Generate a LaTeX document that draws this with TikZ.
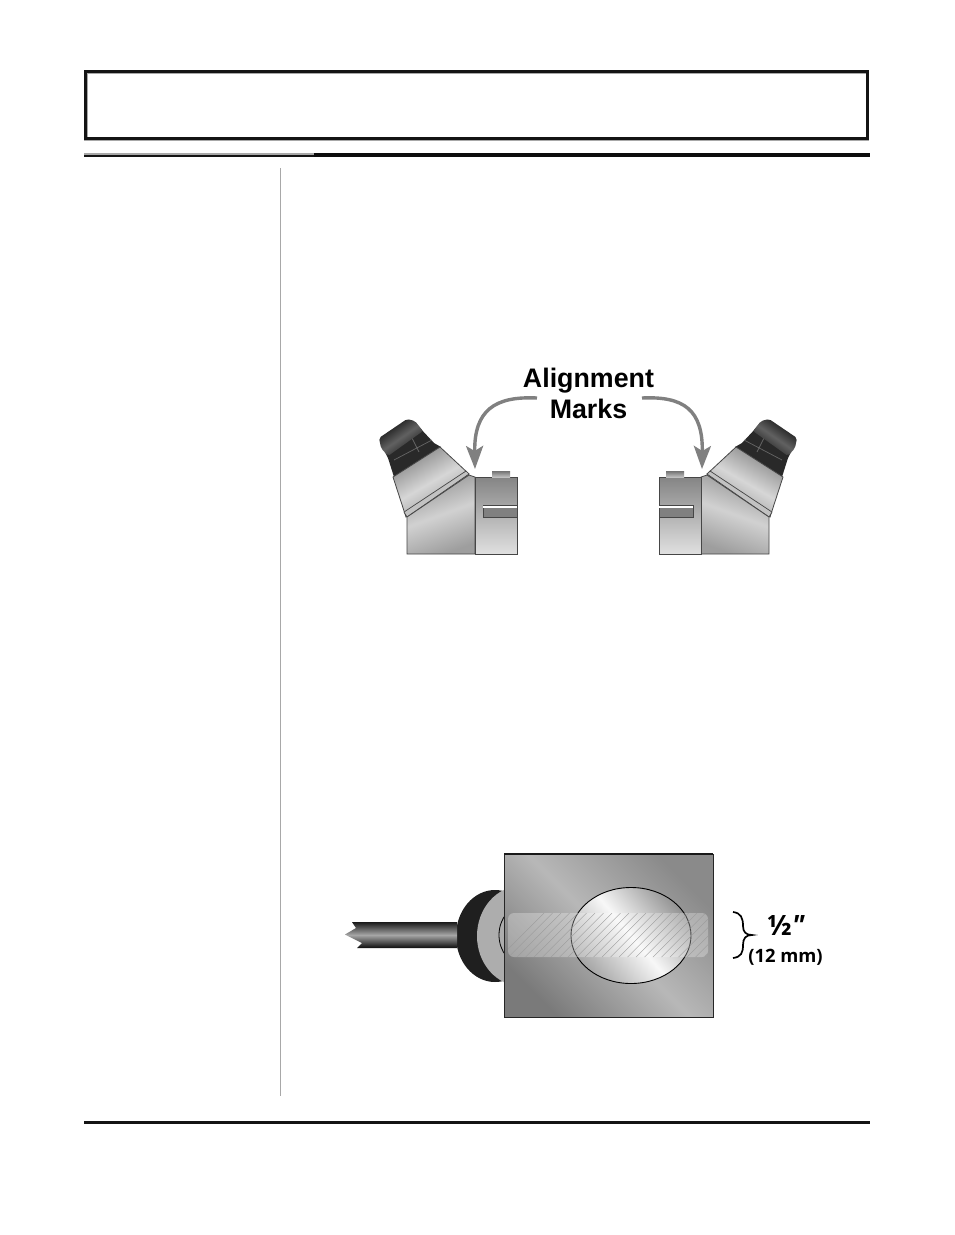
\documentclass[tikz,border=0pt]{standalone}
\usepackage{fontspec}
\usetikzlibrary{arrows.meta}
\newfontfamily\markFont{Liberation Sans}
\newfontfamily\sizeFont{Open Sans}
\definecolor{ruleGray}{RGB}{168,168,168}
\definecolor{arrowGray}{RGB}{128,128,128}
\definecolor{bodyLine}{RGB}{70,70,70}
\tikzstyle{page} = [x = 1pt, y = -1pt]
\tikzstyle{heavyRule} = [color=black!92, line width=3pt]
\tikzstyle{markArrow} = [color=arrowGray, line width=3.4pt, -{Stealth[length=23pt, width=17pt, inset=5pt]}]
\tikzstyle{bodyEdge} = [draw=bodyLine, line width=.8pt]
\tikzstyle{markText} = [font=\markFont\bfseries\fontsize{26.8}{31}\selectfont, align=center, inner sep=0pt]
\tikzstyle{sizeText} = [font=\sizeFont\bfseries, inner sep=0pt]
\newcommand{\microscopeHead}[1]{
  \fill [black!84] (385,452) -- (420,428) -- (434,443) -- (441,447) -- (394,477) -- (388,458) -- cycle;
  \draw [black!60, line width=.7pt] (412,438) -- (419,452) (394,460) -- (432,440);
  \shade [rounded corners=2pt, left color=black!95, right color=black!92, middle color=black!62, shading angle=#1*35] (379,438) -- (407,419) -- (415,421) -- (423,431) -- (388,456) -- (381,448) -- cycle;
  \shade [bodyEdge, left color=black!48, right color=black!42, middle color=black!16, shading angle=#1*30] (393,477) -- (440,447) -- (469,474) -- (406,517) -- cycle;
  \draw [color=bodyLine, line width=.7pt, fill=black!24] (404,512) -- (466,471) -- (469,474) -- (407,517) -- cycle;
  \shade [bodyEdge, left color=black!42, right color=black!38, middle color=black!18, shading angle=#1*20] (407,517) -- (469,475) -- (475,477) -- (475,554) -- (407,554) -- cycle;
  \shade [bodyEdge, top color=black!48, bottom color=black!12] (475,477) rectangle (517,554);
  \shade [top color=black!55, bottom color=black!25] (492,471) rectangle (510,477);
  \filldraw [color=bodyLine, line width=.6pt, fill=black!50] (483,505) rectangle (517,517);
  \fill [white] (483,505.5) rectangle (517,508);
}
\begin{document}
\begin{tikzpicture}[page]
  \useasboundingbox [fill=white] (0,0) rectangle (954,1235);
  \draw [ruleGray, line width=1pt] (87.5,138) -- (87.5,73.5) -- (867,73.5);
  \draw [heavyRule, line width=3.2pt] (85.6,71.6) rectangle (867.5,138.4);
  \draw [ruleGray, line width=1pt] (84,140.5) -- (869,140.5);
  \fill [ruleGray] (84,153) rectangle (314,154.5);
  \fill [black!92] (84,154.5) rectangle (314,156.5);
  \fill [black!95] (314,153.4) rectangle (870,156.5);
  \draw [ruleGray, line width=1pt] (280.5,168) -- (280.5,1096);
  \draw [heavyRule] (84,1122) -- (870,1122);

  \microscopeHead{1}
  \begin{scope}[xshift=1176pt, xscale=-1]
    \microscopeHead{-1}
  \end{scope}

  \node [markText] (alignLabel) at (588.5,393) {Alignment\\Marks};
  \coordinate (leftStart) at (537,398);
  \coordinate (leftEnd) at (475,469);
  \coordinate (rightStart) at (642,398);
  \coordinate (rightEnd) at (702,469);
  \draw [markArrow] (leftStart) .. controls (495,396) and (474,410) .. (leftEnd);
  \draw [markArrow] (rightStart) .. controls (684,396) and (703,410) .. (rightEnd);

  \fill [black!88] (495,936) ellipse [x radius=39, y radius=46];
  \fill [black!32] (521,936) ellipse [x radius=44, y radius=50];
  \draw [black, line width=.8pt] (524,935) ellipse [x radius=25, y radius=30];
  \shade [top color=black!90, bottom color=black!95, middle color=black!35] (352,922) -- (457,922) -- (457,948) -- (357,948) -- (362,943) -- (345,934.5) -- (356,928) -- cycle;

  \shade [draw=black!85, line width=.9pt, left color=black!46, right color=black!52, middle color=black!28, shading angle=-45] (504,854) rectangle (713,1017);
  \draw [black!90, line width=1.4pt] (504,854) -- (713,854);
  \shade [draw=black, line width=.9pt, left color=black!42, right color=black!35, middle color=black!3, shading angle=-50] (631,935.5) ellipse [x radius=60, y radius=48];
  \fill [white, opacity=.28, rounded corners=6pt] (508,913) rectangle (708,957);
  \begin{scope}
    \clip [rounded corners=6pt] (508,913) rectangle (708,957);
    \foreach \hatchX in {500,508.5,...,710} {
      \draw [black!40, line width=.35pt] (\hatchX,957) -- (\hatchX+44,913);
    }
  \end{scope}

  \draw [black, line width=1.7pt] (733,912) .. controls (741,913) and (743,918) .. (743,926) .. controls (743,932) and (746,935) .. (752,935) .. controls (746,935) and (743,938) .. (743,945) .. controls (743,953) and (741,957) .. (733,958);
  \node [sizeText, font=\sizeFont\bfseries\fontsize{28}{28}\selectfont] (halfLabel) at (786,925) {½{\itshape ″}};
  \node [sizeText, font=\sizeFont\bfseries\fontsize{18.4}{18}\selectfont] (mmLabel) at (785.5,957.5) {(12 mm)};
\end{tikzpicture}
\end{document}
